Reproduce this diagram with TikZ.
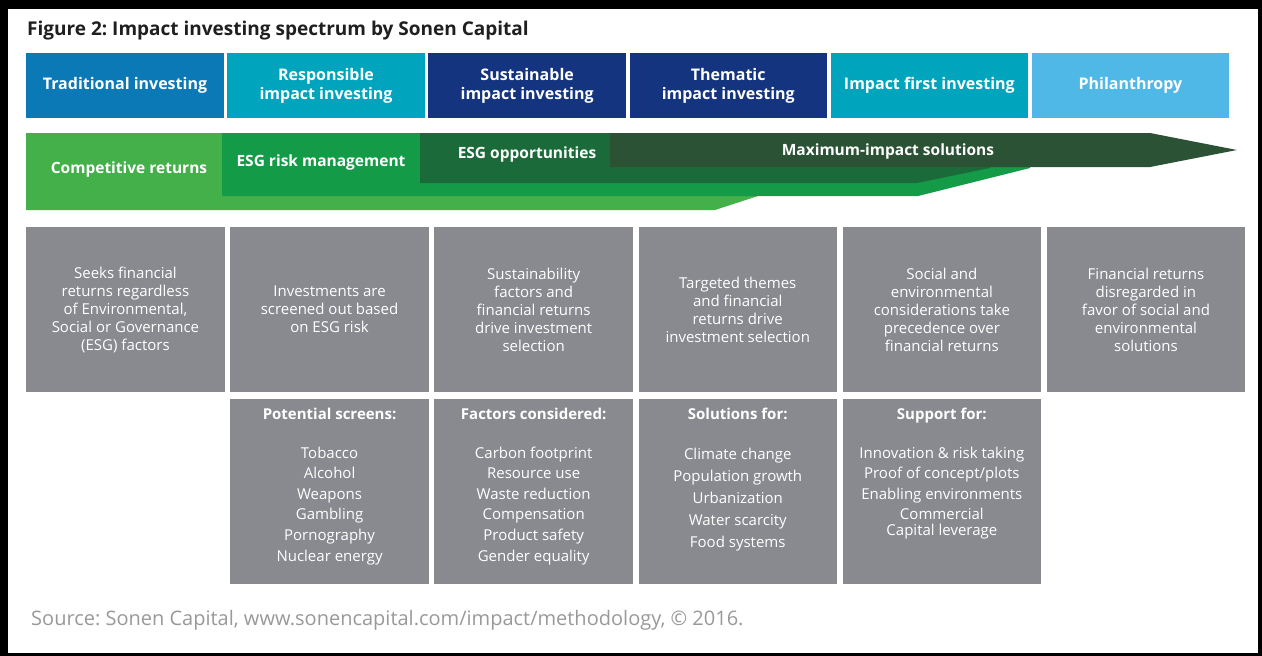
\documentclass[tikz,border=0pt]{standalone}
\usepackage{fontspec}
\setmainfont{Open Sans}
\usetikzlibrary{positioning}
\frenchspacing

\definecolor{tradblue}{RGB}{11,121,181}
\definecolor{tealblue}{RGB}{0,165,189}
\definecolor{navyblue}{RGB}{20,52,127}
\definecolor{skyblue}{RGB}{80,184,230}
\definecolor{lightgreen}{RGB}{67,176,74}
\definecolor{midgreen}{RGB}{19,155,72}
\definecolor{darkgreen}{RGB}{27,107,58}
\definecolor{deepgreen}{RGB}{43,82,52}
\definecolor{boxgrey}{RGB}{136,138,143}

\begin{document}
\begin{tikzpicture}[x=1pt,y=-1pt,node distance=3.2pt,
  head node/.style={rectangle,minimum width=197.5pt,minimum height=65pt,inner sep=0pt,
    text=white,align=center,font=\fontsize{16}{19}\selectfont\bfseries},
  info node/.style={rectangle,fill=boxgrey,minimum width=198.5pt,minimum height=165pt,
    inner sep=0pt,text=white,align=center,font=\fontsize{15}{18}\selectfont},
  list node/.style={rectangle,fill=boxgrey,minimum width=198.5pt,minimum height=185pt,inner sep=0pt},
  list text/.style={text=white,align=center,inner sep=0pt,font=\fontsize{15}{20.6}\selectfont},
  band text/.style={text=white,font=\fontsize{15.5}{18}\selectfont\bfseries}]

  % frame
  \useasboundingbox (0,0) rectangle (1262,656);
  \fill[black] (0,0) rectangle (1262,656);
  \fill[white] (8,9) rectangle (1258,653);

  \node[anchor=west,inner sep=0pt,text=black!88,font=\fontsize{19}{22}\selectfont\bfseries]
    (title) at (27,31) {Figure 2: Impact investing spectrum by Sonen Capital};

  % spectrum headers
  \node[head node,fill=tradblue,anchor=north west] (h1) at (26,53) {Traditional investing};
  \node[head node,fill=tealblue,right=of h1] (h2) {Responsible\\impact investing};
  \node[head node,fill=navyblue,right=of h2] (h3) {Sustainable\\impact investing};
  \node[head node,fill=navyblue,right=of h3] (h4) {Thematic\\impact investing};
  \node[head node,fill=tealblue,right=of h4] (h5) {Impact first investing};
  \node[head node,fill=skyblue,right=of h5] (h6) {Philanthropy};

  % green bands
  \fill[lightgreen] (26,133) -- (758,133) -- (758,196) -- (715,210) -- (26,210) -- cycle;
  \fill[midgreen] (222,133) -- (1030,133) -- (1030,168) -- (918,196) -- (222,196) -- cycle;
  \fill[darkgreen] (420,133) -- (990,133) -- (990,168) -- (917,183) -- (420,183) -- cycle;
  \fill[deepgreen] (610,133) -- (1150,133) -- (1237,150) -- (1150,167) -- (610,167) -- cycle;

  \node[band text] (b1) at (129,169) {Competitive returns};
  \node[band text] (b2) at (321,162) {ESG risk management};
  \node[band text] (b3) at (527,154) {ESG opportunities};
  \node[band text] (b4) at (888,151) {Maximum-impact solutions};

  % descriptions
  \begin{scope}[node distance=5.2pt]
  \node[info node,anchor=north west] (g1) at (26,227)
    {Seeks financial\\returns regardless\\of Environmental,\\Social or Governance\\(ESG) factors};
  \node[info node,right=of g1] (g2) {Investments are\\screened out based\\on ESG risk};
  \node[info node,right=of g2] (g3)
    {Sustainability\\factors and\\financial returns\\drive investment\\selection};
  \node[info node,right=of g3] (g4)
    {Targeted themes\\and financial\\returns drive\\investment selection};
  \node[info node,right=of g4] (g5)
    {Social and\\environmental\\considerations take\\precedence over\\financial returns};
  \node[info node,right=of g5] (g6)
    {Financial returns\\disregarded in\\favor of social and\\environmental\\solutions};
  \end{scope}

  % lists
  \node[list node,below=6pt of g2] (l2) {};
  \node[list node,below=6pt of g3] (l3) {};
  \node[list node,below=6pt of g4] (l4) {};
  \node[list node,below=6pt of g5] (l5) {};

  \node[list text,below=9pt of l2.north] (t2)
    {{\fontsize{15}{20.6}\selectfont\bfseries Potential screens:}\\[18.4pt]
     Tobacco\\Alcohol\\Weapons\\Gambling\\Pornography\\Nuclear energy};
  \node[list text,below=9pt of l3.north] (t3)
    {{\fontsize{15}{20.6}\selectfont\bfseries Factors considered:}\\[18.4pt]
     Carbon footprint\\Resource use\\Waste reduction\\Compensation\\Product safety\\Gender equality};
  \node[list text,below=9pt of l4.north,font=\fontsize{15}{22.2}\selectfont] (t4)
    {{\fontsize{15}{22.2}\selectfont\bfseries Solutions for:}\\[17.8pt]
     Climate change\\Population growth\\Urbanization\\Water scarcity\\Food systems};
  \node[list text,below=9pt of l5.north] (t5)
    {{\fontsize{15}{20.6}\selectfont\bfseries Support for:}\\[18.4pt]
     Innovation \& risk taking\\Proof of concept/plots\\Enabling environments\\Commercial\\[-4.6pt]Capital leverage};

  \node[anchor=west,inner sep=0pt,text=black!40,font=\fontsize{20}{24}\selectfont]
    (source) at (31,620) {Source: Sonen Capital, www.sonencapital.com/impact/methodology, © 2016.};
\end{tikzpicture}
\end{document}
